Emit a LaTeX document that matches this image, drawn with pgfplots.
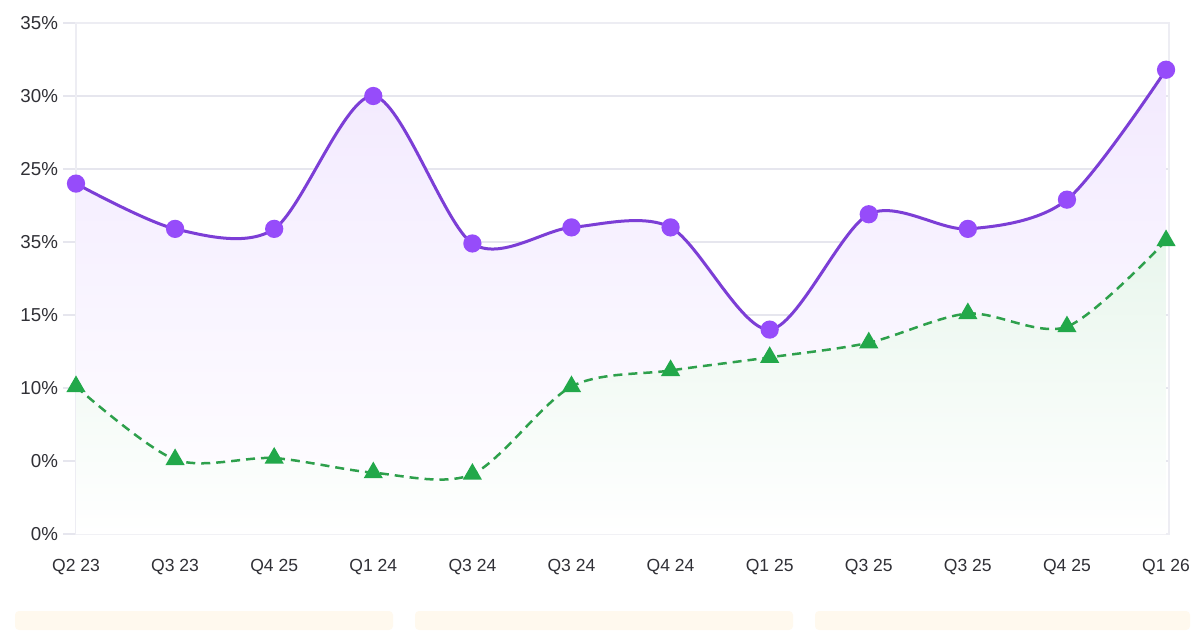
\documentclass[border=0pt]{standalone}
\usepackage{pgfplots}
\pgfplotsset{compat=1.18}
\usepackage{fontspec}
\setmainfont{Liberation Sans}
\definecolor{pline}{RGB}{124,62,214}
\definecolor{pmark}{RGB}{150,76,250}
\definecolor{gline}{RGB}{46,160,76}
\definecolor{gmark}{RGB}{34,168,74}
\definecolor{gridc}{RGB}{230,230,238}
\definecolor{txt}{RGB}{48,48,54}
\definecolor{card}{RGB}{255,249,238}
\begin{document}
\begin{tikzpicture}[x=1bp,y=1bp]
\path[use as bounding box] (0,0) rectangle (600,315);
\fill[white] (0,0) rectangle (600,315);
\fill[card, rounded corners=2bp] (7.5,0) rectangle (196.5,9.5);
\fill[card, rounded corners=2bp] (207.5,0) rectangle (396.5,9.5);
\fill[card, rounded corners=2bp] (407.5,0) rectangle (595,9.5);
\begin{axis}[
  at={(38bp,48bp)}, anchor=south west,
  scale only axis, width=546.5bp, height=255.5bp,
  xmin=0, xmax=11.03, ymin=0, ymax=35,
  xtick={0,...,11},
  xticklabels={Q2 23,Q3 23,Q4 25,Q1 24,Q3 24,Q3 24,Q4 24,Q1 25,Q3 25,Q3 25,Q4 25,Q1 26},
  ytick={0,5,...,35},
  yticklabels={0\%,0\%,10\%,15\%,35\%,25\%,30\%,35\%},
  /pgf/number format/assume math mode=true,
  ymajorgrids, grid style={gridc, line width=0.6bp},
  axis line style={draw=gridc!70, line width=0.6bp},
  x axis line style={draw=none},
  xtick style={draw=none},
  ytick style={draw=gridc, line width=0.6bp},
  ytick pos=left, tick align=outside, major tick length=6.5bp,
  ticklabel style={text=txt},
  xticklabel style={font=\fontsize{8.8}{10}\selectfont, yshift=-2.5bp},
  yticklabel style={font=\fontsize{9.4}{11}\selectfont, xshift=1bp},
  clip=false,
]
\addplot[draw=none, shade, top color=pmark!12!white, bottom color=white, smooth, tension=0.5] coordinates {
(0,24.0) (1,20.9) (2,20.9) (3,30.0) (4,19.9) (5,21.0) (6,21.0) (7,14.0) (8,21.9) (9,20.9) (10,22.9) (11,31.8)
} \closedcycle;
\addplot[draw=none, shade, top color=gmark!10!white, bottom color=white, smooth, tension=0.5] coordinates {
(0,10.1) (1,5.1) (2,5.2) (3,4.2) (4,4.1) (5,10.1) (6,11.2) (7,12.1) (8,13.1) (9,15.1) (10,14.2) (11,20.1)
} \closedcycle;
\addplot[gline, line width=1.25bp, dash pattern=on 4.5bp off 3bp, smooth, tension=0.5,
  mark=triangle*, mark size=4.3bp, mark options={solid, fill=gmark, draw=gmark}] coordinates {
(0,10.1) (1,5.1) (2,5.2) (3,4.2) (4,4.1) (5,10.1) (6,11.2) (7,12.1) (8,13.1) (9,15.1) (10,14.2) (11,20.1)
};
\addplot[pline, line width=1.5bp, smooth, tension=0.5,
  mark=*, mark size=3.8bp, mark options={fill=pmark, draw=pmark}] coordinates {
(0,24.0) (1,20.9) (2,20.9) (3,30.0) (4,19.9) (5,21.0) (6,21.0) (7,14.0) (8,21.9) (9,20.9) (10,22.9) (11,31.8)
};
\end{axis}
\end{tikzpicture}
\end{document}
